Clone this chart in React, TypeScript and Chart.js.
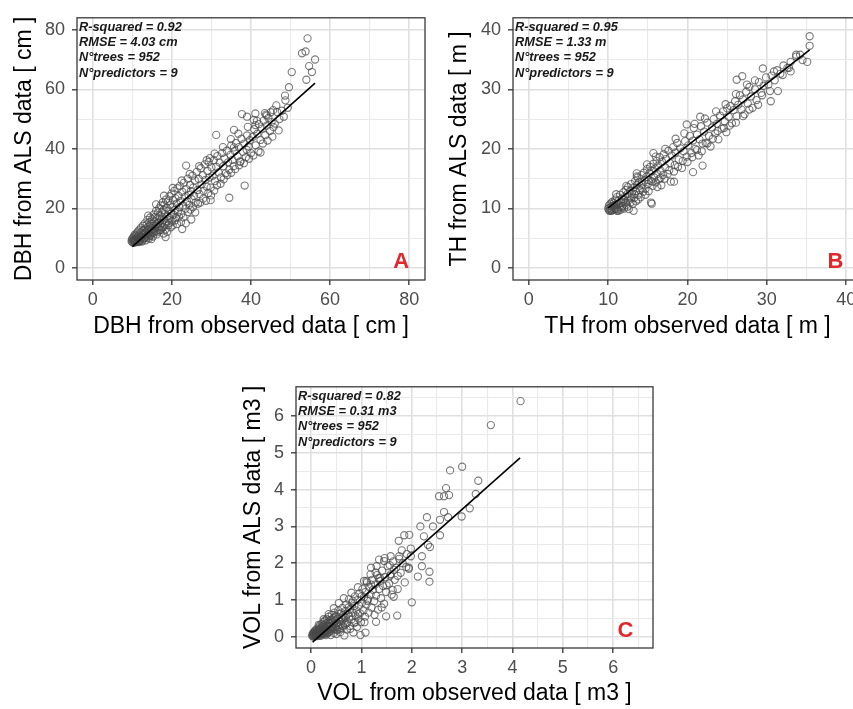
import React, { useEffect, useRef } from 'react';
import { Chart, registerables } from 'chart.js';
Chart.register(...registerables);

const FONT = "'Liberation Sans', Arial, Helvetica, sans-serif";

// ---------------- Panel A : DBH ----------------
const dbhTicks = [0, 10, 20, 30, 40, 50, 60, 70, 80];
const dbhMajor = 20;
const dbhStats = ['R-squared = 0.92', 'RMSE = 4.03 cm', 'N°trees = 952', 'N°predictors = 9'];
const dbhFit: [number, number][] = [[10.0, 7.2], [56.2, 62.1]];
const dbhPoints: [number, number][] = [
  [9.8,9.0],[9.9,9.6],[10.0,8.7],[10.1,10.1],[10.2,9.2],[10.3,8.5],[10.4,10.6],[10.5,9.5],[10.6,11.2],[10.7,8.9],
  [10.8,9.9],[10.9,10.8],[11.0,9.2],[11.1,11.6],[11.2,8.8],[11.3,10.3],[11.4,12.3],[11.5,9.7],[11.6,11.0],[11.7,8.9],
  [11.8,12.9],[11.9,10.5],[12.0,9.4],[12.1,11.8],[12.2,13.6],[12.3,10.1],[12.4,8.9],[12.5,12.4],[12.6,11.0],[12.7,14.2],
  [12.8,9.8],[12.9,12.8],[13.0,11.4],[13.1,15.0],[13.2,10.2],[13.3,13.3],[13.4,9.3],[13.5,12.0],[13.6,14.6],[13.7,10.9],
  [13.8,16.2],[13.9,12.7],[14.0,11.3],[14.1,13.9],[14.2,9.9],[14.3,15.4],[14.4,12.2],[14.5,17.0],[14.6,10.8],[14.7,13.5],
  [14.8,14.9],[14.9,11.7],[15.0,16.4],[15.1,12.9],[15.2,10.6],
  [15.3,14.2],[15.4,18.0],[15.5,11.9],[15.6,15.6],[15.7,13.3],[15.8,17.2],[15.9,12.4],[16.0,19.2],[16.1,14.8],[16.2,11.3],
  [16.3,16.6],[16.4,13.8],[16.5,18.6],[16.6,15.3],[16.7,12.6],[16.8,20.1],[16.9,17.4],[17.0,14.1],[17.1,16.0],[17.2,21.0],
  [17.3,12.9],[17.4,18.8],[17.5,15.2],[17.6,17.1],[17.7,22.1],[17.8,13.8],[17.9,19.6],[18.0,16.3],[18.1,21.3],[18.2,14.6],
  [18.3,18.1],[18.5,23.0],[18.6,15.8],[18.7,20.2],[18.9,17.4],[19.0,22.4],[19.1,14.4],[19.2,19.3],[19.4,24.1],[19.5,16.8],
  [19.6,21.2],[19.8,18.3],[19.9,25.0],
  [20.0,15.6],[20.1,20.4],[20.3,22.8],[20.4,17.9],[20.6,25.9],[20.7,19.5],[20.9,23.4],[21.0,16.9],[21.2,21.6],[21.4,26.8],
  [21.5,18.8],[21.7,24.2],[21.9,20.4],[22.0,27.6],[22.2,22.5],[22.4,18.2],[22.6,25.6],[22.8,21.0],[23.0,28.6],[23.2,23.8],
  [23.4,19.9],[23.6,26.5],[23.8,22.4],[24.0,30.0],[24.2,24.6],[24.4,21.2],[24.6,27.9],[24.8,25.8],
  [25.0,23.1],[25.2,31.0],[25.4,27.0],[25.6,24.2],[25.8,29.4],[26.0,22.0],[26.3,32.3],[26.5,26.2],[26.8,29.9],[27.0,24.8],
  [27.3,33.5],[27.5,28.1],[27.8,31.2],[28.0,25.9],[28.3,34.8],[28.5,29.6],[28.8,27.4],[29.0,32.6],[29.3,35.6],[29.5,30.4],
  [29.8,27.0],[30.0,33.8],
  [30.3,31.0],[30.6,36.2],[30.9,29.2],[31.2,34.0],[31.5,37.6],[31.8,32.1],[32.1,35.4],[32.4,30.4],[32.7,38.6],[33.0,34.2],
  [33.3,36.8],[33.6,31.8],[33.9,39.4],[34.2,35.5],[34.5,33.0],[34.8,38.0],[35.0,41.2],[35.3,36.3],
  [35.6,34.2],[35.9,39.3],[36.2,42.0],[36.6,37.5],[36.9,40.6],[37.3,35.8],[37.6,43.4],[38.0,39.0],[38.3,41.8],[38.7,37.2],
  [39.0,44.5],[39.4,40.8],[39.7,42.9],[40.0,38.6],
  [40.4,44.0],[40.8,46.6],[41.2,41.2],[41.6,45.1],[42.0,48.3],[42.4,43.0],[42.8,46.8],[43.2,49.5],[43.6,44.6],[44.0,47.8],
  [44.4,50.4],[44.8,46.0],[45.2,49.0],[45.7,47.3],
  [54.3,77.1],[52.9,72.1],[53.8,72.7],[56.2,70.0],[54.7,67.8],[55.4,65.8],[54.0,63.2],[50.3,65.8],[49.6,60.7],[48.6,57.9],
  [48.7,56.3],[49.3,53.8],[46.4,54.6],[46.6,52.4],[41.1,51.9],[37.7,51.7],[39.0,50.8],[40.7,49.7],[44.0,51.2],[42.4,38.8],
  [38.4,27.7],[34.5,23.6],[31.2,44.7],[35.7,46.4],[23.6,34.4],[29.6,36.9],[18.4,10.4],[22.6,13.1],[24.9,16.3],[29.8,22.8],
  [43.5,52.0],[45.6,53.0],[41.1,48.0],[35.7,40.5],[37.3,35.7],[38.9,39.7],[47.2,50.0],[46.0,48.5],
  [10.3,9.3],[10.6,8.6],[10.9,9.4],[11.2,10.0],[11.5,8.7],[11.9,9.1],[12.2,10.7],[12.6,9.2],[13.0,10.1],[13.4,11.6],
  [13.9,10.2],[14.4,11.0],[14.8,9.7],[15.3,12.3],[15.9,14.0],[16.4,12.0],[17.0,12.7],[17.5,13.6],[17.9,11.6],[18.4,13.0],
  [18.8,12.2],[19.3,15.1],[19.7,13.7],[20.2,14.3],[20.8,16.0],[21.3,14.8],[21.8,17.2],[22.3,15.5],[22.9,17.0],[23.5,15.0],
  [24.1,18.8],[24.7,19.6],[25.3,20.4],[25.9,18.7],[26.6,21.6],[27.2,22.0],[27.9,23.3],[28.6,22.6],[29.2,25.2],[29.9,24.4],
  [30.7,26.0],[31.4,27.8],[32.3,28.3],[33.1,29.8],[34.0,31.2],[35.0,32.0],[36.0,33.2],[37.0,34.5],[38.2,35.2],[39.5,36.7],
  [40.6,37.8],[41.9,39.2],[43.0,41.8],[44.2,42.8],[45.4,44.1],
  [14.0,17.6],[16.0,21.4],[18.0,24.3],[20.2,26.9],[22.5,29.4],[24.5,31.6],[26.9,34.2],[28.8,36.2],[30.8,38.4],[32.9,40.6],
  [34.9,43.3],[36.8,45.1],[39.2,47.4],[41.5,49.4],[43.8,51.5],[45.0,52.3],[47.8,52.8],[48.3,50.8],[47.0,46.2],
];

// ---------------- Panel B : TH ----------------
const thTicks = [0, 5, 10, 15, 20, 25, 30, 35, 40];
const thMajor = 10;
const thStats = ['R-squared = 0.95', 'RMSE = 1.33 m', 'N°trees = 952', 'N°predictors = 9'];
const thFit: [number, number][] = [[10.0, 10.1], [35.4, 36.6]];
const thPoints: [number, number][] = [
  [10.0,10.0],[10.1,9.7],[10.1,10.5],[10.2,10.1],[10.2,9.6],[10.3,10.8],[10.3,9.9],[10.4,10.3],[10.5,9.7],[10.5,11.1],
  [10.6,10.4],[10.7,9.8],[10.7,10.9],[10.8,10.1],[10.9,11.5],[10.9,9.9],[11.0,10.6],[11.1,10.0],[11.1,11.9],[11.2,10.8],
  [11.3,9.6],[11.3,11.3],[11.4,10.3],[11.5,12.3],[11.6,10.9],[11.6,9.8],[11.7,11.6],[11.8,10.4],[11.9,12.7],[11.9,11.1],
  [12.0,10.0],[12.1,12.0],[12.2,11.0],[12.2,13.1],[12.3,10.6],
  [12.4,12.4],[12.5,11.3],[12.5,13.6],[12.6,9.9],[12.7,12.0],[12.8,13.0],[12.8,11.0],[12.9,14.1],[13.0,12.5],[13.1,10.8],
  [13.2,13.5],[13.3,11.8],[13.4,14.6],[13.5,12.9],[13.5,11.2],[13.6,13.9],[13.7,15.2],[13.8,12.3],[13.9,14.4],[14.0,13.1],
  [14.1,11.9],[14.2,15.6],[14.3,14.0],[14.4,12.8],[14.5,16.0],[14.6,14.7],[14.7,13.3],[14.8,15.3],[14.9,16.6],[15.0,14.1],
  [15.1,12.9],[15.2,15.9],[15.3,17.0],[15.4,14.6],[15.5,10.8],[15.5,16.3],[15.6,13.8],[15.7,17.5],[15.8,15.2],[15.9,16.7],
  [16.0,14.4],[16.1,18.0],[16.2,15.8],[16.3,17.2],[16.4,14.9],[16.5,18.6],[16.6,16.4],[16.7,13.9],[16.8,17.8],[16.9,15.6],
  [17.0,19.1],[17.2,16.9],[17.3,18.3],[17.5,15.8],[17.6,19.7],[17.8,17.6],[17.9,14.5],[18.0,18.9],[18.2,20.3],[18.4,17.3],
  [18.5,19.4],[18.7,21.0],[18.9,18.2],[19.1,20.1],[19.3,16.8],[19.5,19.6],[19.7,21.3],[19.9,18.7],
  [20.1,20.6],[20.3,22.2],[20.5,19.3],[20.7,21.4],[20.8,23.5],[21.0,20.0],[21.2,22.4],[21.4,18.9],[21.5,21.6],[21.7,23.8],
  [21.9,20.9],[22.1,22.9],[22.3,21.0],[22.5,24.4],[22.7,22.2],[22.9,20.4],[23.1,23.6],[23.3,25.0],[23.5,22.6],[23.7,24.2],
  [23.9,21.6],[24.1,25.6],[24.3,23.4],[24.5,26.3],[24.7,24.6],[24.9,22.8],[25.0,26.8],
  [25.2,25.4],[25.4,27.2],[25.6,24.3],[25.8,26.5],[26.0,28.0],[26.2,25.5],[26.4,27.4],[26.6,29.0],[26.8,26.6],[27.0,28.3],
  [27.2,25.8],[27.4,29.6],[27.6,27.6],[27.8,30.4],[28.0,28.8],[28.2,26.9],[28.5,30.0],[28.7,28.2],[29.0,31.2],[29.3,29.4],
  [29.6,30.6],[29.9,32.0],
  [30.2,30.8],[30.6,32.3],[31.0,31.5],[31.3,33.2],[31.7,32.6],[32.1,34.0],[32.6,33.6],[33.0,34.6],[33.7,35.5],[34.2,35.8],
  [35.4,38.9],[35.4,37.3],[35.1,34.6],[33.7,35.8],[32.8,33.6],[30.9,33.0],[29.5,33.5],[30.4,29.7],[30.5,28.0],[31.4,29.7],
  [29.4,29.0],[26.2,31.6],[26.9,32.2],[20.7,16.1],[21.9,17.2],[15.4,11.0],[15.7,19.3],[18.3,14.5],[21.6,25.4],[19.9,24.1],
  [13.6,15.9],[13.2,9.6],[11.1,9.6],
  [10.4,9.6],[10.8,10.6],[11.2,9.8],[11.7,10.2],[12.0,11.5],[12.4,10.3],[12.9,11.7],[13.3,12.4],[13.8,11.5],[14.2,13.4],
  [14.7,12.3],[15.1,14.8],[15.6,14.5],[16.2,13.6],[16.6,15.1],[17.1,15.0],[17.7,16.4],[18.3,16.2],[18.8,17.0],[19.4,18.0],
  [20.0,17.8],[20.6,18.6],[21.2,19.8],[21.8,19.6],[22.5,20.9],[23.2,21.7],[23.8,23.0],[24.6,23.5],[25.3,23.9],[26.1,24.4],
  [27.0,25.5],[27.8,26.6],[28.9,27.4],
  [11.0,12.4],[12.3,13.8],[13.6,15.4],[14.9,17.4],[16.0,18.7],[17.2,20.0],[18.5,21.7],[19.6,22.6],[20.9,24.2],[22.2,25.1],
  [23.6,26.3],[24.8,27.5],[26.1,29.2],[27.5,30.8],[28.5,31.5],[32.0,32.4],[33.0,33.0],[34.5,34.9],
];

// ---------------- Panel C : VOL ----------------
const volTicks = [0, 0.5, 1, 1.5, 2, 2.5, 3, 3.5, 4, 4.5, 5, 5.5, 6, 6.5];
const volMajor = 1;
const volStats = ['R-squared = 0.82', 'RMSE = 0.31 m3', 'N°trees = 952', 'N°predictors = 9'];
const volFit: [number, number][] = [[0.03, -0.14], [4.15, 4.86]];
const volPoints: [number, number][] = [
  [0.02,0.03],[0.03,0.08],[0.04,0.01],[0.05,0.06],[0.05,0.12],[0.06,0.02],[0.07,0.09],[0.07,0.15],[0.08,0.04],[0.09,0.11],
  [0.09,0.19],[0.10,0.06],[0.11,0.14],[0.11,0.02],[0.12,0.22],[0.13,0.09],[0.13,0.17],[0.14,0.05],[0.15,0.26],[0.15,0.12],
  [0.16,0.20],[0.17,0.08],[0.17,0.31],[0.18,0.15],[0.19,0.24],[0.19,0.03],[0.20,0.11],[0.21,0.35],[0.21,0.19],[0.22,0.28],
  [0.23,0.07],[0.23,0.15],[0.24,0.40],[0.25,0.22],[0.25,0.32],[0.26,0.10],[0.27,0.18],[0.27,0.44],[0.28,0.27],[0.29,0.05],
  [0.29,0.36],[0.30,0.14],[0.30,0.23],
  [0.31,0.48],[0.32,0.31],[0.32,0.09],[0.33,0.20],[0.34,0.40],[0.35,0.27],[0.35,0.55],[0.36,0.14],[0.37,0.34],[0.38,0.22],
  [0.38,0.46],[0.39,0.05],[0.40,0.30],[0.41,0.60],[0.41,0.17],[0.42,0.39],[0.43,0.26],[0.44,0.51],[0.45,0.11],[0.45,0.34],
  [0.46,0.66],[0.47,0.22],[0.48,0.44],[0.49,0.30],[0.50,0.57],[0.50,0.08],[0.51,0.38],[0.52,0.18],[0.53,0.49],[0.54,0.72],
  [0.55,0.27],[0.56,0.41],[0.57,0.62],[0.58,0.13],[0.59,0.35],[0.60,0.52],
  [0.61,0.24],[0.62,0.79],[0.63,0.45],[0.64,0.60],[0.66,0.04],[0.67,0.33],[0.68,0.70],[0.69,0.52],[0.70,0.88],[0.71,0.20],
  [0.72,0.41],[0.73,0.63],[0.75,1.02],[0.76,0.55],[0.77,0.30],[0.78,0.76],[0.80,0.47],[0.81,0.92],[0.82,0.66],[0.84,0.12],
  [0.85,0.38],[0.86,0.84],[0.87,1.10],[0.88,0.58],[0.90,0.72],[0.91,0.27],[0.92,1.00],[0.94,0.50],[0.95,0.85],[0.96,1.18],
  [0.97,0.64],[0.98,0.05],[0.99,0.40],
  [1.01,0.93],[1.02,1.30],[1.04,0.72],[1.05,1.08],[1.07,0.55],[1.08,1.22],[1.10,0.88],[1.11,1.48],[1.13,1.02],[1.14,0.66],
  [1.16,1.35],[1.18,1.15],[1.20,0.80],[1.21,1.55],[1.23,1.28],[1.25,0.97],[1.27,1.42],[1.29,1.12],[1.31,1.68],[1.33,0.74],
  [1.35,1.30],[1.37,1.52],[1.39,1.05],[1.41,1.80],[1.43,1.38],[1.45,0.90],[1.47,1.62],[1.49,1.22],
  [1.52,1.92],[1.55,1.45],[1.58,1.70],[1.60,1.15],[1.63,2.05],[1.66,1.55],[1.69,1.88],[1.72,1.30],[1.75,2.12],[1.78,1.74],
  [1.82,2.00],[1.86,1.48],[1.90,2.25],[1.94,1.85],[1.98,2.40],
  [4.16,6.40],[3.57,5.75],[3.00,4.62],[2.76,4.52],[3.32,4.24],[2.68,4.04],[2.54,3.82],[2.64,3.82],[2.74,3.85],[3.27,3.88],
  [3.15,3.49],[2.99,3.27],[2.64,3.39],[2.72,3.25],[2.56,3.18],[2.30,3.25],[2.17,3.00],[2.42,3.00],[2.56,2.76],[1.74,2.61],
  [1.85,2.76],[1.95,2.77],[2.35,1.50],[2.35,1.77],[2.12,1.64],[2.00,0.94],[1.71,0.58],[1.49,0.56],[1.29,0.41],[1.08,0.12],
  [1.64,1.09],[1.62,1.27],[1.35,2.10],[1.46,2.14],[1.58,2.19],[1.75,2.19],[2.20,2.19],[1.98,2.19],[1.94,1.88],[1.89,1.90],
  [2.20,1.92],[2.32,2.50],[2.24,2.73],[1.72,1.66],[1.57,1.66],[1.28,1.75],[1.10,1.52],[2.36,2.44],[1.37,1.60],[1.45,2.06],
  [1.19,1.88],
  [0.04,0.05],[0.06,0.10],[0.08,0.14],[0.10,0.03],[0.12,0.08],[0.14,0.18],[0.16,0.04],[0.18,0.22],[0.20,0.07],[0.22,0.12],
  [0.24,0.30],[0.26,0.16],[0.28,0.09],[0.31,0.28],[0.33,0.12],[0.36,0.38],[0.39,0.20],[0.42,0.47],[0.44,0.24],[0.47,0.54],
  [0.50,0.20],[0.53,0.32],[0.56,0.22],[0.60,0.66],[0.63,0.30],[0.66,0.56],[0.70,0.36],[0.74,0.80],[0.78,0.22],[0.83,0.98],
  [0.88,0.40],[0.93,0.62],[1.00,1.10],[1.06,0.40],[1.12,0.98],[1.19,1.42],[1.26,0.60],[1.34,1.60],[1.40,0.80],[1.50,1.40],
  [1.56,1.95],[1.65,1.82],[1.80,2.35],[0.15,0.33],[0.25,0.48],[0.35,0.62],[0.45,0.78],[0.55,0.92],[0.65,1.05],[0.80,1.20],
  [0.93,1.35],[1.05,1.52],[1.18,1.70],[1.30,1.92],
];

type Box = { left: number; top: number; width: number; height: number };
type Area = { left: number; top: number; right: number; bottom: number };
type PanelSpec = {
  id: string;
  canvas: Box;
  area: Area;
  range: [number, number];
  ticks: number[];
  major: number;
  points: [number, number][];
  fit: [number, number][];
  stats: string[];
  letter: string;
  letterX: number;
  xTitle: string;
  yTitle: string;
  yTitleCenter: number;
  xTitleCenter: number;
};

const panels: PanelSpec[] = [
  {
    id: 'A',
    canvas: { left: 0, top: 0, width: 432, height: 345 },
    area: { left: 77, top: 15, right: 425, bottom: 280 },
    range: [-4, 84], ticks: dbhTicks, major: dbhMajor,
    points: dbhPoints, fit: dbhFit, stats: dbhStats, letter: 'A', letterX: 80,
    xTitle: 'DBH from observed data [ cm ]', yTitle: 'DBH from ALS data [ cm ]',
    yTitleCenter: 25, xTitleCenter: 327,
  },
  {
    id: 'B',
    canvas: { left: 435, top: 0, width: 435, height: 345 },
    area: { left: 513, top: 15, right: 862, bottom: 280 },
    range: [-2, 42], ticks: thTicks, major: thMajor,
    points: thPoints, fit: thFit, stats: thStats, letter: 'B', letterX: 39.65,
    xTitle: 'TH from observed data [ m ]', yTitle: 'TH from ALS data [ m ]',
    yTitleCenter: 460, xTitleCenter: 327,
  },
  {
    id: 'C',
    canvas: { left: 228, top: 369, width: 437, height: 345 },
    area: { left: 296, top: 384, right: 653, bottom: 648 },
    range: [-0.3, 6.79], ticks: volTicks, major: volMajor,
    points: volPoints, fit: volFit, stats: volStats, letter: 'C', letterX: 6.4,
    xTitle: 'VOL from observed data [ m3 ]', yTitle: 'VOL from ALS data [ m3 ]',
    yTitleCenter: 254, xTitleCenter: 694,
  },
];

const TICK_FONT_SIZE = 18;
const TITLE_FONT_SIZE = 23;
const TICK_LEN = 5;

const isMajor = (v: number, step: number) => Math.abs(v / step - Math.round(v / step)) < 1e-6;

const decorPlugin = {
  id: 'panelDecor',
  afterDraw(chart: any, _args: any, opts: any) {
    const { ctx, chartArea: a, scales } = chart;
    ctx.save();
    ctx.strokeStyle = '#3a3a3a';
    ctx.lineWidth = 1.3;
    ctx.strokeRect(a.left, a.top, a.right - a.left, a.bottom - a.top);
    ctx.font = `italic bold 12.8px ${FONT}`;
    ctx.fillStyle = '#1a1a1a';
    ctx.textAlign = 'left';
    ctx.textBaseline = 'middle';
    (opts.stats as string[]).forEach((s, i) => {
      ctx.fillText(s, a.left + 2, a.top + 9.5 + i * 15.3);
    });
    ctx.font = `bold 22px ${FONT}`;
    ctx.fillStyle = '#e0282c';
    ctx.textAlign = 'right';
    ctx.textBaseline = 'alphabetic';
    ctx.fillText(opts.letter, scales.x.getPixelForValue(opts.letterX), scales.y.getPixelForValue(0));
    ctx.restore();
  },
};

function makeScale(p: PanelSpec, axis: 'x' | 'y') {
  const lh = TITLE_FONT_SIZE * 1.2;
  const yAxisWidth = p.area.left - p.canvas.left;
  const xAxisHeight = p.canvas.top + p.canvas.height - p.area.bottom;
  const titlePad =
    axis === 'y'
      ? { top: p.yTitleCenter - p.canvas.left - lh / 2, bottom: 0 }
      : { top: 0, bottom: p.canvas.top + p.canvas.height - p.xTitleCenter - lh / 2 };
  return {
    type: 'linear',
    min: p.range[0],
    max: p.range[1],
    afterBuildTicks: (scale: any) => {
      scale.ticks = p.ticks.map((v) => ({ value: v }));
    },
    afterFit: (scale: any) => {
      if (axis === 'y') scale.width = yAxisWidth;
      else scale.height = xAxisHeight;
    },
    border: { display: false },
    grid: {
      drawTicks: true,
      tickLength: TICK_LEN,
      color: (c: any) => (isMajor(c.tick.value, p.major) ? '#e0e0e0' : '#eaeaea'),
      lineWidth: (c: any) => (isMajor(c.tick.value, p.major) ? 1.6 : 1.1),
      tickColor: (c: any) => (isMajor(c.tick.value, p.major) ? '#333333' : 'rgba(0,0,0,0)'),
      tickWidth: 1.3,
    },
    ticks: {
      autoSkip: false,
      maxRotation: 0,
      padding: axis === 'y' ? 7 : 4,
      color: '#4d4d4d',
      font: { family: FONT, size: TICK_FONT_SIZE },
      callback: (v: any) => (isMajor(Number(v), p.major) ? String(Number(v)) : ''),
    },
    title: {
      display: true,
      text: axis === 'x' ? p.xTitle : p.yTitle,
      color: '#000000',
      font: { family: FONT, size: TITLE_FONT_SIZE },
      padding: titlePad,
    },
  };
}

function Panel({ p }: { p: PanelSpec }) {
  const ref = useRef<HTMLCanvasElement | null>(null);
  useEffect(() => {
    if (!ref.current) return;
    const chart = new Chart(ref.current, {
      type: 'scatter',
      data: {
        datasets: [
          {
            type: 'line',
            data: p.fit.map(([x, y]) => ({ x, y })),
            borderColor: '#000000',
            borderWidth: 1.6,
            pointRadius: 0,
            fill: false,
          } as any,
          {
            type: 'scatter',
            data: p.points.map(([x, y]) => ({ x, y })),
            pointStyle: 'circle',
            pointRadius: 3.6,
            borderWidth: 1.1,
            borderColor: 'rgba(74,74,74,0.72)',
            backgroundColor: 'rgba(0,0,0,0)',
          } as any,
        ],
      },
      options: {
        animation: false,
        responsive: false,
        devicePixelRatio: 1,
        events: [],
        layout: {
          autoPadding: false,
          padding: {
            left: 0,
            top: p.area.top - p.canvas.top,
            right: p.canvas.left + p.canvas.width - p.area.right,
            bottom: 0,
          },
        },
        scales: {
          x: makeScale(p, 'x') as any,
          y: makeScale(p, 'y') as any,
        },
        plugins: {
          legend: { display: false },
          tooltip: { enabled: false },
          panelDecor: { stats: p.stats, letter: p.letter, letterX: p.letterX },
        } as any,
      },
      plugins: [decorPlugin as any],
    });
    return () => chart.destroy();
  }, [p]);
  return (
    <canvas
      ref={ref}
      width={p.canvas.width}
      height={p.canvas.height}
      style={{
        position: 'absolute',
        left: p.canvas.left,
        top: p.canvas.top,
        width: p.canvas.width,
        height: p.canvas.height,
      }}
    />
  );
}

export default function App() {
  return (
    <div
      style={{
        position: 'fixed',
        left: 0,
        top: 0,
        width: 853,
        height: 709,
        overflow: 'hidden',
        background: '#ffffff',
      }}
    >
      {panels.map((p) => (
        <Panel key={p.id} p={p} />
      ))}
    </div>
  );
}
